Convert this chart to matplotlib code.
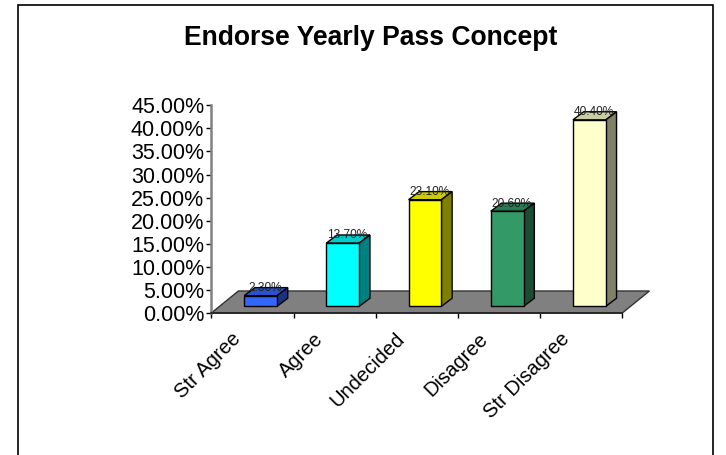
import matplotlib
matplotlib.use("Agg")
import matplotlib.pyplot as plt
from matplotlib.patches import Polygon, Rectangle

plt.rcParams['font.family'] = ['Liberation Sans', 'DejaVu Sans']

categories = ["Str Agree", "Agree", "Undecided", "Disagree", "Str Disagree"]
values = [2.3, 13.7, 23.1, 20.6, 40.4]
value_labels = ["2.30%", "13.70%", "23.10%", "20.60%", "40.40%"]
front_colors = ["#3366FF", "#00FFFF", "#FFFF00", "#339966", "#FFFFCC"]
top_colors = ["#2952CC", "#00CCCC", "#CCCC00", "#297A52", "#CCCCA3"]
side_colors = ["#1A3380", "#008080", "#808000", "#1A4D33", "#808066"]
y_ticks = [0, 5, 10, 15, 20, 25, 30, 35, 40, 45]
y_tick_labels = ["0.00%", "5.00%", "10.00%", "15.00%", "20.00%",
                 "25.00%", "30.00%", "35.00%", "40.00%", "45.00%"]

W, H = 726, 455
fig = plt.figure(figsize=(W / 100, H / 100), dpi=100)

# outer chart frame, runs off the bottom of the picture
fig.add_artist(Rectangle((17.6 / W, -0.02), (712.5 - 17.6) / W, 1 - 5 / H + 0.02,
                         transform=fig.transFigure, facecolor="white",
                         edgecolor="black", linewidth=1.2, zorder=-1))

ax = fig.add_axes([211.3 / W, 1 - 313 / H, 411 / W, 207.7 / H])
ax.set_xlim(0, 5)
ax.set_ylim(0, 45)
ax.patch.set_visible(False)

# oblique offsets of the fake 3D, in data units
floor_dx, floor_dy = 0.33, 4.77
base_dx, base_dy = 0.10, 1.45
depth_dx, depth_dy = 0.13, 1.75
bar_width = 0.4

floor = Polygon([(0, 0), (floor_dx, floor_dy), (5 + floor_dx, floor_dy), (5, 0)],
                closed=True, facecolor="#808080", edgecolor="#333333",
                linewidth=1, clip_on=False, zorder=1)
ax.add_patch(floor)

for i, v in enumerate(values):
    x0 = i + 0.5 + base_dx - bar_width / 2
    x1 = x0 + bar_width
    y0 = base_dy
    y1 = base_dy + v
    style = dict(closed=True, edgecolor="black", linewidth=1.0, clip_on=False, zorder=3)
    ax.add_patch(Polygon([(x0, y1), (x1, y1), (x1 + depth_dx, y1 + depth_dy),
                          (x0 + depth_dx, y1 + depth_dy)], facecolor=top_colors[i], **style))
    ax.add_patch(Polygon([(x1, y0), (x1 + depth_dx, y0 + depth_dy),
                          (x1 + depth_dx, y1 + depth_dy), (x1, y1)],
                         facecolor=side_colors[i], **style))
    ax.add_patch(Polygon([(x0, y0), (x1, y0), (x1, y1), (x0, y1)],
                         facecolor=front_colors[i], **style))
    ax.text((x0 + x1) / 2 + 0.055, y1 + 0.35, value_labels[i], ha="center", va="bottom",
            fontsize=8.6, color="#222222", zorder=4, clip_on=False)

ax.set_yticks(y_ticks)
ax.set_yticklabels(y_tick_labels, fontsize=15.5)
ax.set_xticks(range(6))
ax.set_xticklabels([])
ax.tick_params(axis="y", length=3.5, width=1, pad=1.5)
ax.tick_params(axis="x", length=3.5, width=1)

for name in ["top", "right"]:
    ax.spines[name].set_visible(False)
ax.spines["left"].set_color("#808080")
ax.spines["left"].set_linewidth(1.8)
ax.spines["bottom"].set_color("#222222")
ax.spines["bottom"].set_linewidth(1.2)

# rotated category labels hang off the tick area
for i, name in enumerate(categories):
    ax.annotate(name, xy=(i + 0.5, 0), xycoords="data", xytext=(-10.5, -16.5),
                textcoords="offset points", rotation=45, rotation_mode="anchor",
                ha="right", va="center", fontsize=14.5, color="black",
                annotation_clip=False)

fig.text(371 / W, 1 - 38 / H, "Endorse Yearly Pass Concept", ha="center", va="center",
         fontsize=19.1, fontweight="bold", color="black")

fig.savefig("out.png", dpi=100, facecolor="white")
